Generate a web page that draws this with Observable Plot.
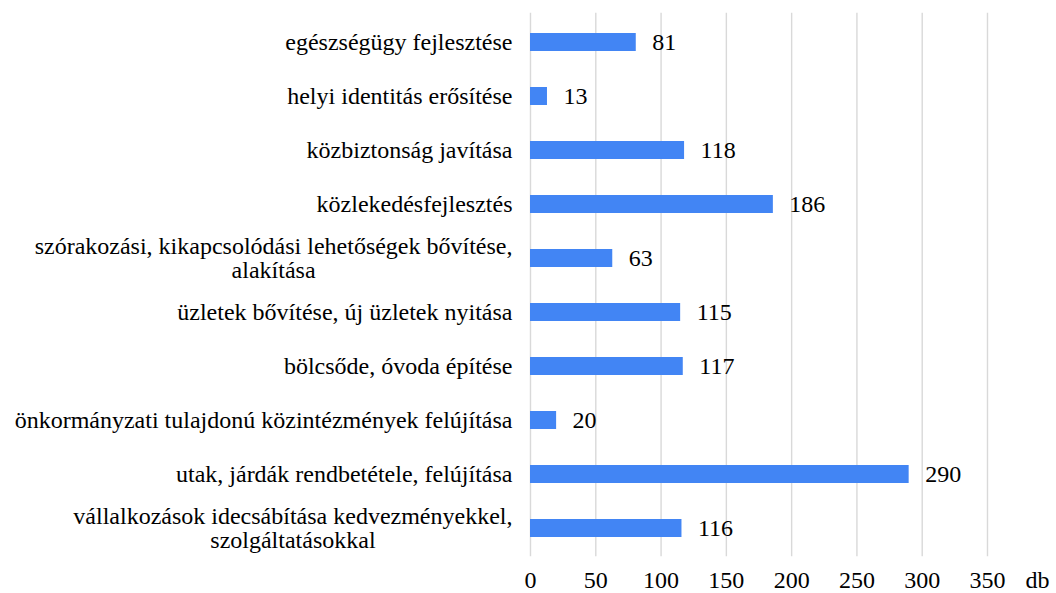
<!DOCTYPE html>
<html>
<head>
<meta charset="utf-8">
<script src="https://cdn.jsdelivr.net/npm/d3@7"></script>
<script src="https://cdn.jsdelivr.net/npm/@observablehq/plot@0.6"></script>
<style>
  body { margin: 0; }
  #chart svg text { font-family: "Liberation Serif", serif !important; }
</style>
</head>
<body>
<div id="chart"></div>
<script>
const categories = [
  "egészségügy fejlesztése",
  "helyi identitás erősítése",
  "közbiztonság javítása",
  "közlekedésfejlesztés",
  "szórakozási, kikapcsolódási lehetőségek bővítése,\nalakítása",
  "üzletek bővítése, új üzletek nyitása",
  "bölcsőde, óvoda építése",
  "önkormányzati tulajdonú közintézmények felújítása",
  "utak, járdák rendbetétele, felújítása",
  "vállalkozások idecsábítása kedvezményekkel,\nszolgáltatásokkal"
];
const values = [81, 13, 118, 186, 63, 115, 117, 20, 290, 116];
const xTicks = [0, 50, 100, 150, 200, 250, 300, 350];
const unitLabel = ["db"];

const rows = categories.map((c, i) => ({category: c, value: values[i]}));
const serifName = "Liberation Serif";
const fs = 24;

// make sure the system serif face is requested before drawing
if (document.fonts) {
  document.fonts.check(fs + "px 'Liberation Serif'");
  document.fonts.load(fs + "px 'Liberation Serif'");
}

const chart = Plot.plot({
  width: 1056,
  height: 593,
  marginLeft: 530,
  marginRight: 69,
  marginTop: 12.85,
  marginBottom: 36.85,
  style: {fontFamily: serifName, fontSize: fs + "px"},
  x: {domain: [0, 350], axis: null},
  y: {domain: categories, paddingInner: 0.67, paddingOuter: 0.335, axis: null},
  marks: [
    Plot.gridX(xTicks, {stroke: "#d9d9d9", strokeOpacity: 1, strokeWidth: 1.4}),
    Plot.axisX(xTicks, {tickSize: 0, tickPadding: 14, fontSize: fs, fontFamily: serifName, fill: "#000", label: null}),
    Plot.barX(rows, {x: "value", y: "category", fill: "#4285f4"}),
    Plot.text(rows, {y: "category", text: "category", frameAnchor: "left", textAnchor: "end", dx: -18, fontSize: fs, fontFamily: serifName, fill: "#000", lineHeight: 0.98}),
    Plot.text(rows, {x: "value", y: "category", text: d => String(d.value), textAnchor: "start", dx: 16, fontSize: fs, fontFamily: serifName, fill: "#000"}),
    Plot.text(unitLabel, {text: d => d, frameAnchor: "bottom-right", textAnchor: "start", lineAnchor: "top", dx: 38, dy: 14, fontSize: fs, fontFamily: serifName, fill: "#000"})
  ]
});

document.getElementById("chart").appendChild(chart);
chart.querySelectorAll("text").forEach(t => t.style.setProperty("font-family", "'Liberation Serif', serif", "important"));
const firstLabel = chart.querySelector("g[aria-label='text'] text");
if (firstLabel) getComputedStyle(firstLabel).fontFamily;
if (document.fonts) document.fonts.check(fs + "px 'Liberation Serif'");

// center the lines of two-line category labels within their right-aligned block
const multi = [];
chart.querySelectorAll("text").forEach(t => {
  if (t.querySelectorAll("tspan").length > 1) {
    multi.push({t, base: t.getAttribute("transform") || ""});
    t.setAttribute("text-anchor", "middle");
    t.style.textAnchor = "middle";
  }
});
function centerLines() {
  const ctx = document.createElement("canvas").getContext("2d");
  ctx.font = fs + "px 'Liberation Serif', serif";
  multi.forEach(({t, base}) => {
    let w = 0;
    t.querySelectorAll("tspan").forEach(s => { w = Math.max(w, ctx.measureText(s.textContent).width); });
    t.setAttribute("transform", base + ` translate(${-w / 2},0)`);
  });
}
centerLines();
if (document.fonts) document.fonts.load(fs + "px 'Liberation Serif'").then(centerLines);
</script>
</body>
</html>
